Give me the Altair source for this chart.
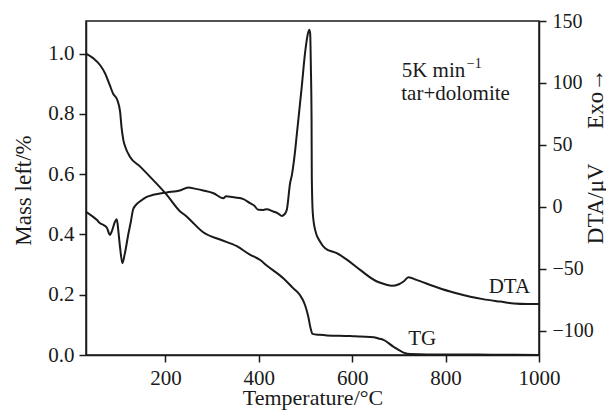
import altair as alt
import pandas as pd

# ---- data ----
tg_temp = [30, 46, 60, 71, 81, 88, 97, 103, 106, 110, 114, 124, 146, 174, 203, 231, 246, 257,
           281, 317, 353, 381, 403, 417, 453, 474, 488, 499, 506, 511, 515, 530, 546, 596,
           617, 646, 656, 667, 688, 710, 724, 760, 800, 900, 1000]
tg_mass = [1.0, 0.984, 0.962, 0.934, 0.895, 0.867, 0.846, 0.807, 0.757, 0.713, 0.691, 0.658,
           0.625, 0.580, 0.531, 0.477, 0.459, 0.442, 0.407, 0.383, 0.361, 0.333, 0.315, 0.297,
           0.254, 0.221, 0.199, 0.166, 0.127, 0.088, 0.070, 0.067, 0.065, 0.063, 0.061, 0.059,
           0.055, 0.050, 0.028, 0.008, 0.003, 0.002, 0.002, 0.001, 0.0]

dta_temp = [30, 53, 60, 67, 75, 81, 86, 92, 96, 99, 103, 108, 113, 121, 126, 131, 138, 146,
            160, 174, 203, 231, 249, 265, 281, 303, 324, 330, 335, 350, 367, 381, 390, 399,
            410, 417, 431, 440, 449, 455, 460, 467, 471, 478, 481, 492, 499, 504, 508, 510,
            511.5, 513, 513.5, 515.6, 520.6, 531, 542, 567, 590, 617, 653, 670, 685, 700,
            710, 720.5, 738, 781, 817, 853, 880, 917, 946, 975, 1000]
dta_val = [-4, -10.5, -13.2, -14.5, -17, -22.6, -19, -12, -10, -18.6, -33, -45.5, -38, -21.3,
           -12, -2, 2, 4.5, 8, 9.7, 11.6, 13.2, 15.6, 14.5, 13.2, 11, 7, 8.5, 8.3, 7.5, 6.2, 3,
           1, -2.4, -2.5, -1.9, -3.8, -5, -7.3, -6, -2.4, 19, 26, 46, 57, 97, 124, 137.6, 143,
           140, 113, 70, 24.5, -5, -18.6, -28, -33.4, -37.4, -43, -50.9, -60.3, -62.5, -63.8,
           -62.5, -60.3, -56.8, -59, -64.9, -69.2, -72.5, -74.5, -76.5, -78, -78.4, -78.4]

x_ticks = [200, 400, 600, 800, 1000]
left_ticks = [0.0, 0.2, 0.4, 0.6, 0.8, 1.0]
right_ticks = [-100, -50, 0, 50, 100, 150]

# annotations (data coordinates)
tg_labels = ["5K min", "tar+dolomite", "TG"]
tg_label_x = [706, 705, 720]
tg_label_y = [0.923, 0.846, 0.033]
sup_label = ["\u22121"]
sup_x = [845.5]
sup_y = [0.951]
dta_label = ["DTA"]
dta_label_x = [981]
dta_label_y = [-69.5]

FONT = "Liberation Serif"
INK = "#1a1a1a"

x_scale = alt.Scale(domain=[30, 1000], nice=False, zero=False)
y_left = alt.Scale(domain=[0, 1.108], nice=False)
y_right = alt.Scale(domain=[-119.6, 150], nice=False)

x_axis = alt.Axis(values=x_ticks, format="d", title="Temperature/\u00b0C",
                  titleY=49, titleBaseline="alphabetic", titleFontSize=22, labelFontSize=21,
                  labelFlush=False, labelOverlap=False, labelPadding=5)

tg_df = pd.DataFrame({"T": tg_temp, "TG": tg_mass})
dta_df = pd.DataFrame({"T": dta_temp, "DTA": dta_val})

tg_line = alt.Chart(tg_df).mark_line(color=INK, strokeWidth=2, interpolate="monotone").encode(
    x=alt.X("T:Q", scale=x_scale, axis=x_axis),
    y=alt.Y("TG:Q", scale=y_left,
            axis=alt.Axis(values=left_ticks, format=".1f", title="Mass left/%",
                          titleAngle=270, titleX=-56, titleY=169, titleBaseline="alphabetic",
                          titleAlign="center", labelFontSize=21, labelFlush=False,
                          labelOverlap=False, labelPadding=5)),
)

tg_text = alt.Chart(pd.DataFrame({"x": tg_label_x, "y": tg_label_y, "t": tg_labels})).mark_text(
    align="left", baseline="alphabetic", font=FONT, fontSize=21, color=INK
).encode(x=alt.X("x:Q", scale=x_scale), y=alt.Y("y:Q", scale=y_left), text="t:N")

sup_text = alt.Chart(pd.DataFrame({"x": sup_x, "y": sup_y, "t": sup_label})).mark_text(
    align="left", baseline="alphabetic", font=FONT, fontSize=14, color=INK
).encode(x=alt.X("x:Q", scale=x_scale), y=alt.Y("y:Q", scale=y_left), text="t:N")

dta_line = alt.Chart(dta_df).mark_line(color=INK, strokeWidth=2, interpolate="monotone").encode(
    x=alt.X("T:Q", scale=x_scale),
    y=alt.Y("DTA:Q", scale=y_right,
            axis=alt.Axis(orient="right", values=right_ticks, format="d",
                          title="DTA/\u03bcV\u00a0\u00a0\u00a0\u00a0\u00a0\u00a0Exo\u2192",
                          titleAngle=270, titleX=63, titleY=135, titleBaseline="alphabetic",
                          titleAlign="center", labelFontSize=20, labelFlush=False,
                          labelOverlap=False, labelPadding=6)),
)

dta_text = alt.Chart(pd.DataFrame({"x": dta_label_x, "y": dta_label_y, "t": dta_label})).mark_text(
    align="right", baseline="alphabetic", font=FONT, fontSize=21, color=INK
).encode(x=alt.X("x:Q", scale=x_scale), y=alt.Y("y:Q", scale=y_right), text="t:N")

left_group = alt.layer(tg_line, tg_text, sup_text)
right_group = alt.layer(dta_line, dta_text)

chart = alt.layer(left_group, right_group).resolve_scale(y="independent").properties(
    width=453, height=334,
    autosize=alt.AutoSizeParams(type="none"),
    padding={"left": 78, "top": 13, "right": 67, "bottom": 55},
    background="white",
).configure_view(stroke=INK, strokeWidth=1.5).configure_axis(
    grid=False, domainColor=INK, domainWidth=1.5, tickColor=INK, tickWidth=1.5, tickSize=7,
    labelFont=FONT, titleFont=FONT, labelColor=INK, titleColor=INK, titleFontSize=23,
    titleFontWeight="normal",
)

chart.save("out.html", embed_options={"renderer": "svg", "actions": False})
